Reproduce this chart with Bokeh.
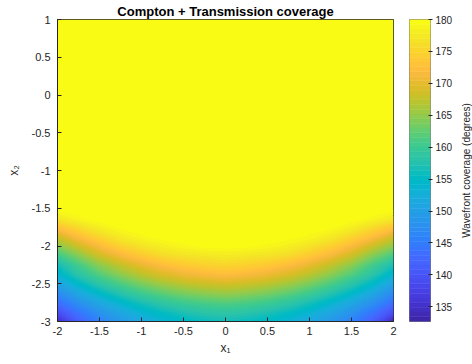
import math
import numpy as np
from bokeh.plotting import figure
from bokeh.layouts import row
from bokeh.models import FixedTicker, Range1d, Title
from bokeh.embed import file_html
from bokeh.resources import INLINE

# ---- data ----
x1_values = [-2.0, -1.75, -1.5, -1.25, -1.0, -0.75, -0.5, -0.25, 0.0,
             0.25, 0.5, 0.75, 1.0, 1.25, 1.5, 1.75, 2.0]
x2_values = [-3.0, -2.875, -2.75, -2.625, -2.5, -2.375, -2.25, -2.125,
             -2.0, -1.875, -1.75, -1.625, -1.5, 1.0]
# coverage (degrees), one row per x2 value (bottom to top), one column per x1 value
coverage = [
    [134, 141, 145.5, 148.5, 151, 153, 154.5, 155.5, 156, 155.5, 154.5, 153, 151, 148.5, 145.5, 141, 133.5],
    [139, 144, 148, 151, 153.5, 155.5, 157, 158, 158.5, 158, 157, 155.5, 153.5, 151, 148, 144, 139],
    [143, 147.5, 151, 154, 156.5, 158.5, 160, 161, 161.5, 161, 160, 158.5, 156.5, 154, 151, 147.5, 143],
    [146.5, 151, 154.5, 157.5, 160, 162, 163.5, 164.5, 165, 164.5, 163.5, 162, 160, 157.5, 154.5, 151, 146.5],
    [150, 154.5, 158, 161, 163.5, 165.5, 167, 168, 168.5, 168, 167, 165.5, 163.5, 161, 158, 154.5, 150],
    [153.5, 158, 161.5, 164.5, 167, 169, 170.5, 171.5, 172, 171.5, 170.5, 169, 167, 164.5, 161.5, 158, 153.5],
    [156, 160.5, 164.5, 167.5, 170, 172, 173.5, 174.5, 175, 174.5, 173.5, 172, 170, 167.5, 164.5, 160.5, 156.5],
    [160, 164, 168, 171, 173.5, 175.5, 176.5, 177, 177.5, 177, 176.5, 175.5, 173.5, 171, 168, 164, 160.5],
    [164, 168, 171.5, 174.5, 176.5, 178, 179, 179.5, 179.7, 179.5, 179, 178, 176.5, 174.5, 171.5, 168, 164.5],
    [168, 172, 175, 177.5, 179, 179.8, 180, 180, 180, 180, 180, 179.8, 179, 177.5, 175, 172, 168.5],
    [172.5, 175.5, 178, 179.5, 180, 180, 180, 180, 180, 180, 180, 180, 180, 179.5, 178, 175.5, 173],
    [177, 179, 180, 180, 180, 180, 180, 180, 180, 180, 180, 180, 180, 180, 180, 179, 177.5],
    [180, 180, 180, 180, 180, 180, 180, 180, 180, 180, 180, 180, 180, 180, 180, 180, 180],
    [180, 180, 180, 180, 180, 180, 180, 180, 180, 180, 180, 180, 180, 180, 180, 180, 180],
]
x_ticks = [-2, -1.5, -1, -0.5, 0, 0.5, 1, 1.5, 2]
x_tick_labels = ["-2", "-1.5", "-1", "-0.5", "0", "0.5", "1", "1.5", "2"]
y_ticks = [-3, -2.5, -2, -1.5, -1, -0.5, 0, 0.5, 1]
y_tick_labels = ["-3", "-2.5", "-2", "-1.5", "-1", "-0.5", "0", "0.5", "1"]
cbar_ticks = [135, 140, 145, 150, 155, 160, 165, 170, 175, 180]
c_low, c_high = 132.7, 180.0

# parula colormap (64 colours)
parula_rgb = [
    [0.2422, 0.1504, 0.6603], [0.2504, 0.1650, 0.7076], [0.2578, 0.1818, 0.7511], [0.2647, 0.1978, 0.7952],
    [0.2706, 0.2147, 0.8364], [0.2751, 0.2342, 0.8710], [0.2783, 0.2559, 0.8991], [0.2803, 0.2782, 0.9221],
    [0.2813, 0.3006, 0.9414], [0.2810, 0.3228, 0.9579], [0.2795, 0.3447, 0.9717], [0.2760, 0.3667, 0.9829],
    [0.2699, 0.3892, 0.9906], [0.2602, 0.4123, 0.9952], [0.2440, 0.4358, 0.9988], [0.2206, 0.4603, 0.9973],
    [0.1963, 0.4847, 0.9892], [0.1834, 0.5074, 0.9798], [0.1786, 0.5289, 0.9682], [0.1764, 0.5499, 0.9520],
    [0.1687, 0.5703, 0.9359], [0.1540, 0.5902, 0.9218], [0.1460, 0.6091, 0.9079], [0.1380, 0.6276, 0.8973],
    [0.1248, 0.6459, 0.8883], [0.1113, 0.6635, 0.8763], [0.0952, 0.6798, 0.8598], [0.0689, 0.6948, 0.8394],
    [0.0297, 0.7082, 0.8163], [0.0036, 0.7203, 0.7917], [0.0067, 0.7312, 0.7660], [0.0433, 0.7411, 0.7394],
    [0.0964, 0.7500, 0.7120], [0.1408, 0.7584, 0.6842], [0.1717, 0.7670, 0.6554], [0.1938, 0.7758, 0.6251],
    [0.2161, 0.7843, 0.5923], [0.2470, 0.7918, 0.5567], [0.2906, 0.7973, 0.5188], [0.3406, 0.8008, 0.4789],
    [0.3909, 0.8029, 0.4354], [0.4456, 0.8024, 0.3909], [0.5044, 0.7993, 0.3480], [0.5616, 0.7942, 0.3045],
    [0.6174, 0.7876, 0.2612], [0.6720, 0.7793, 0.2227], [0.7242, 0.7698, 0.1910], [0.7738, 0.7598, 0.1646],
    [0.8203, 0.7498, 0.1535], [0.8634, 0.7406, 0.1596], [0.9035, 0.7330, 0.1774], [0.9393, 0.7288, 0.2100],
    [0.9728, 0.7298, 0.2394], [0.9956, 0.7434, 0.2371], [0.9970, 0.7659, 0.2199], [0.9952, 0.7893, 0.2028],
    [0.9892, 0.8136, 0.1885], [0.9786, 0.8386, 0.1766], [0.9676, 0.8639, 0.1643], [0.9610, 0.8890, 0.1537],
    [0.9597, 0.9135, 0.1423], [0.9628, 0.9373, 0.1265], [0.9691, 0.9606, 0.1064], [0.9769, 0.9839, 0.0805],
]
parula = ["#%02x%02x%02x" % tuple(int(round(c * 255)) for c in rgb) for rgb in parula_rgb]

# ---- styling ----
FONT = "Liberation Sans"
AX = "#262626"

levels = list(np.linspace(c_low, c_high, len(parula) + 1))
fill_levels = levels[:-1] + [c_high + 0.5]
# one contour line per level, coloured like the band above it (hides seams between bands)
level_line_colors = parula + [parula[-1]]

p = figure(width=400, height=364, x_range=Range1d(-2, 2), y_range=Range1d(-3, 1),
           toolbar_location=None, output_backend="svg",
           min_border_left=57, min_border_right=7, min_border_top=18, min_border_bottom=43,
           background_fill_color=parula[-1], border_fill_color="white")
p.contour(x=x1_values, y=x2_values, z=np.array(coverage), levels=fill_levels,
          fill_color=parula, line_color=level_line_colors, line_width=1.6)

p.title.text = "Compton + Transmission coverage"
p.title.align = "center"
p.title.text_font = FONT
p.title.text_font_size = "13px"
p.title.text_font_style = "bold"
p.title.text_color = "black"
p.title.standoff = 2
p.title.offset = 0

p.grid.visible = False
p.outline_line_color = AX
p.outline_line_width = 1

for ax, ticks, labels, name in [(p.xaxis[0], x_ticks, x_tick_labels, "x₁"),
                                (p.yaxis[0], y_ticks, y_tick_labels, "x₂")]:
    ax.ticker = FixedTicker(ticks=ticks)
    ax.major_label_overrides = {float(t): l for t, l in zip(ticks, labels)}
    ax.axis_label = name
    ax.axis_label_text_font = FONT
    ax.axis_label_text_font_size = "12px"
    ax.axis_label_text_font_style = "normal"
    ax.axis_label_text_color = AX
    ax.major_label_text_font = FONT
    ax.major_label_text_font_size = "11px"
    ax.major_label_text_color = AX
    ax.axis_line_color = AX
    ax.major_tick_line_color = AX
    ax.major_tick_in = 4
    ax.major_tick_out = 0
    ax.minor_tick_line_color = None
p.xaxis.major_label_standoff = 5
p.xaxis.axis_label_standoff = 3
p.yaxis.major_label_standoff = 7
p.yaxis.axis_label_standoff = 8

# ---- colour bar as a narrow figure ----
cb = figure(width=55, height=364, x_range=Range1d(0, 1), y_range=Range1d(c_low, c_high),
            toolbar_location=None, output_backend="svg", y_axis_location="right",
            x_axis_location=None, min_border_left=9, min_border_right=23,
            min_border_top=18, min_border_bottom=43, border_fill_color="white")
cb.quad(left=0, right=1, bottom=levels[:-1], top=levels[1:], fill_color=parula,
        line_color=parula, line_width=0.5)
cb.grid.visible = False
cb.outline_line_color = "#808080"
cax = cb.yaxis[0]
cax.ticker = FixedTicker(ticks=cbar_ticks)
cax.major_label_text_font = FONT
cax.major_label_text_font_size = "10px"
cax.major_label_text_color = AX
cax.axis_line_color = None
cax.major_tick_line_color = AX
cax.major_tick_in = 2
cax.major_tick_out = 2
cax.minor_tick_line_color = None
cax.major_label_standoff = 3

# ---- colour bar label (reads bottom to top) ----
lab = figure(width=17, height=364, toolbar_location=None, output_backend="svg",
             x_axis_location=None, y_axis_location=None,
             min_border_left=16, min_border_right=0, min_border_top=18, min_border_bottom=43,
             border_fill_color="white", background_fill_color="white", outline_line_color=None)
lab.grid.visible = False
lab.add_layout(Title(text="Wavefront coverage (degrees)", align="center",
                     text_font=FONT, text_font_size="10px", text_font_style="normal",
                     text_color=AX, standoff=0, offset=0), "left")

layout = row(p, cb, lab, spacing=0)
open("out.html", "w").write(file_html(layout, INLINE))
